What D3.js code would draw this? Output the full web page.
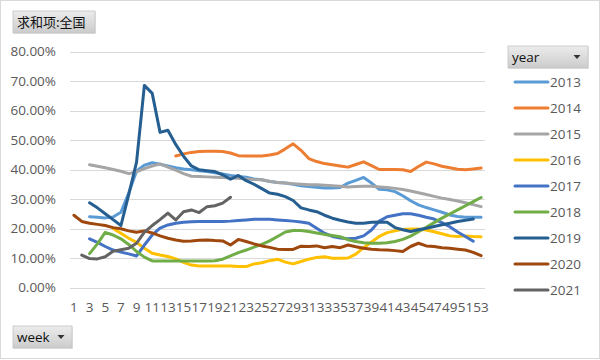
<!DOCTYPE html>
<html><head><meta charset="utf-8">
<script src="https://cdn.jsdelivr.net/npm/d3@7/dist/d3.min.js"></script>
<style>
html,body{margin:0;padding:0;background:#fff;}
svg{display:block;}
</style></head>
<body>
<svg id="chart" width="600" height="360"></svg>
<script>
const weeks = d3.range(1, 54);
const xTickLabels = d3.range(1, 54, 2);
const yTicks = [0, 0.1, 0.2, 0.3, 0.4, 0.5, 0.6, 0.7, 0.8];
const years = ["2013","2014","2015","2016","2017","2018","2019","2020","2021"];
const colors = ["#5B9BD5","#ED7D31","#A5A5A5","#FFC000","#4472C4","#70AD47","#255E91","#9E480E","#636363"];
const _ = null;
// values in percent, week 1..53
const s2013 = [_,_,24.0,23.8,23.6,23.9,25.5,32.0,39.5,41.5,42.3,41.8,41.2,40.6,40.2,39.9,39.6,39.3,38.9,38.5,38.0,37.6,37.4,36.8,36.5,35.9,35.6,35.4,35.0,34.5,34.2,34.0,33.7,33.7,33.9,35.4,36.3,37.3,35.4,33.3,33.1,32.5,31.1,29.4,28.0,27.1,26.3,25.5,24.6,24.1,23.8,23.8,23.8];
const s2014 = [_,_,_,_,_,_,_,_,_,_,_,_,_,44.6,45.3,45.8,46.1,46.2,46.2,46.1,45.6,44.7,44.6,44.6,44.6,44.9,45.4,47.0,48.7,46.5,43.7,42.7,42.0,41.6,41.2,40.8,41.7,42.6,41.3,40.0,40.0,40.0,39.9,39.3,41.0,42.5,41.9,41.1,40.6,40.1,39.9,40.2,40.5];
const s2015 = [_,_,41.6,41.1,40.6,40.0,39.4,38.6,39.2,40.3,41.2,41.9,40.8,39.8,38.6,37.7,37.6,37.5,37.4,37.3,37.1,37.0,36.8,36.6,36.5,36.0,35.6,35.4,35.2,35.0,34.8,34.8,34.7,34.5,34.3,34.1,34.2,34.3,34.3,34.1,33.9,33.6,33.2,32.7,32.1,31.5,30.9,30.3,29.8,29.3,28.7,28.1,27.4];
const s2016 = [_,_,_,_,_,20.0,18.4,16.7,15.3,13.3,11.6,11.0,10.5,9.7,8.5,7.6,7.3,7.3,7.3,7.3,7.3,7.1,7.1,8.0,8.4,9.1,9.6,8.6,8.0,8.8,9.6,10.2,10.4,9.9,9.9,10.0,11.3,13.5,15.4,17.3,18.6,19.2,19.7,19.8,19.8,19.5,18.9,18.2,17.5,17.3,17.5,17.3,17.2];
const s2017 = [_,_,16.5,15.3,13.9,12.7,12.0,11.4,10.7,14.4,17.8,20.1,21.2,21.8,22.1,22.3,22.4,22.4,22.4,22.4,22.5,22.7,22.9,23.1,23.1,23.1,22.9,22.7,22.5,22.2,21.8,20.1,18.4,17.3,16.8,16.5,16.7,17.5,19.5,22.5,24.0,24.5,25.0,25.0,24.5,23.8,23.2,22.0,20.6,18.8,17.3,15.7,_];
const s2018 = [_,_,11.5,14.8,18.7,17.8,16.5,14.6,12.2,10.3,9.0,9.0,9.0,9.0,9.0,9.0,9.0,9.0,9.1,9.6,10.7,11.8,12.7,13.7,14.6,15.8,17.3,18.8,19.3,19.3,19.0,18.5,18.0,17.6,17.2,16.2,15.6,15.2,15.0,15.0,15.2,15.6,16.3,17.4,18.9,20.4,22.0,23.5,24.9,26.3,27.7,29.1,30.5];
const s2019 = [_,_,28.7,27.0,25.0,23.0,21.0,31.5,42.5,68.5,65.8,52.6,53.3,48.5,44.5,41.2,39.9,39.6,39.3,38.2,36.7,38.0,36.2,35.0,33.5,32.0,31.6,30.8,29.5,27.0,26.3,25.7,24.5,23.5,22.8,22.2,21.8,21.8,22.1,22.2,22.1,20.3,19.6,19.0,19.6,20.1,20.7,21.3,21.8,22.4,22.8,23.2,_];
const s2020 = [24.5,22.4,21.8,21.4,21.0,20.3,19.9,19.2,18.7,19.2,18.5,17.5,16.7,16.1,15.7,15.8,16.0,16.1,15.9,15.8,14.4,16.3,15.6,14.8,14.1,13.6,13.0,12.9,12.9,14.0,13.9,14.1,13.5,13.9,13.5,14.4,13.8,13.3,13.0,12.8,12.7,12.5,12.2,13.9,15.0,14.1,13.9,13.5,13.3,13.0,12.7,11.9,10.8];
const s2021 = [_,11.0,9.8,9.7,10.4,12.3,12.8,13.3,15.0,18.8,21.0,23.0,25.2,22.9,25.7,26.3,25.4,27.4,27.7,28.6,30.6,_,_,_,_,_,_,_,_,_,_,_,_,_,_,_,_,_,_,_,_,_,_,_,_,_,_,_,_,_,_,_,_];
const seriesValues = [s2013,s2014,s2015,s2016,s2017,s2018,s2019,s2020,s2021];

const FONT = "'Open Sans', 'DejaVu Sans', sans-serif";
const svg = d3.select("#chart");

// defs: button gradient
const defs = svg.append("defs");
const grad = defs.append("linearGradient").attr("id","btn").attr("x1",0).attr("y1",0).attr("x2",0).attr("y2",1);
grad.append("stop").attr("offset","0%").attr("stop-color","#ececec");
grad.append("stop").attr("offset","100%").attr("stop-color","#cbcbcb");

// outer border
svg.append("rect").attr("x",0.5).attr("y",0.5).attr("width",599).attr("height",358)
  .attr("fill","#fff").attr("stroke","#d9d9d9");

const x = d3.scaleBand().domain(weeks).range([70, 485]).padding(0);
const y = d3.scaleLinear().domain([0, 0.8]).range([287.5, 51.5]);
const cx = w => x(w) + x.bandwidth() / 2;

// gridlines
svg.append("g").selectAll("line").data(yTicks).join("line")
  .attr("x1", 70).attr("x2", 485)
  .attr("y1", d => Math.round(y(d)) + 0.5).attr("y2", d => Math.round(y(d)) + 0.5)
  .attr("stroke", "#d9d9d9").attr("stroke-width", 1);

// y axis
const yAxis = svg.append("g").attr("transform","translate(70,0)")
  .call(d3.axisLeft(y).tickValues(yTicks).tickFormat(d3.format(".2%")).tickSize(0).tickPadding(14));
yAxis.select(".domain").remove();
yAxis.selectAll("text").attr("font-family", FONT).attr("font-size", "13.5px").attr("fill", "#595959");

// x axis
const xAxis = svg.append("g").attr("transform","translate(0,288)")
  .call(d3.axisBottom(x).tickValues(xTickLabels).tickSize(0).tickPadding(14));
xAxis.select(".domain").remove();
xAxis.selectAll("text").attr("font-family", FONT).attr("font-size", "13.5px").attr("fill", "#595959");

// lines
const line = d3.line().defined(d => d.v != null).x(d => cx(d.w)).y(d => y(d.v / 100));
svg.append("g").selectAll("path").data(seriesValues).join("path")
  .attr("d", vals => line(vals.map((v, i) => ({w: weeks[i], v}))))
  .attr("fill", "none")
  .attr("stroke", (d, i) => colors[i])
  .attr("stroke-width", 3)
  .attr("stroke-linejoin", "round")
  .attr("stroke-linecap", "round");

// buttons
function button(bx, by, bw, bh, label, arrow, fsize, ffam) {
  const g = svg.append("g");
  g.append("rect").attr("x", bx+1).attr("y", by+1).attr("width", bw).attr("height", bh).attr("fill", "#e6e6e6");
  g.append("rect").attr("x", bx).attr("y", by).attr("width", bw).attr("height", bh)
    .attr("fill", "url(#btn)").attr("stroke", "#c4c4c4").attr("stroke-width", 0.8);
  g.append("text").attr("x", bx + 4).attr("y", by + bh/2).attr("dy", "0.36em")
    .attr("font-family", ffam).attr("font-size", fsize).attr("fill", "#111").text(label);
  if (arrow) {
    const ax = bx + bw - 11, ay = by + bh/2;
    g.append("path").attr("d", `M${ax-3.5},${ay-2}L${ax+3.5},${ay-2}L${ax},${ay+2}Z`).attr("fill", "#333");
  }
}
button(13, 11, 82, 22, "求和项:全国", false, "13px", "'Noto Sans CJK SC', sans-serif");
button(508, 46, 80, 22, "year", true, "13.5px", FONT);
button(13, 326, 59, 22, "week", true, "13.5px", FONT);

// legend
const legend = svg.append("g").selectAll("g").data(years).join("g")
  .attr("transform", (d, i) => `translate(515,${82 + i * 26})`);
legend.append("line").attr("x1", 0).attr("x2", 33).attr("y1", 0).attr("y2", 0)
  .attr("stroke", (d, i) => colors[i]).attr("stroke-width", 3).attr("stroke-linecap","round");
legend.append("text").attr("x", 35).attr("y", 0).attr("dy", "0.36em")
  .attr("font-family", FONT).attr("font-size", "13.5px").attr("fill", "#595959").text(d => d);
</script>
</body></html>
